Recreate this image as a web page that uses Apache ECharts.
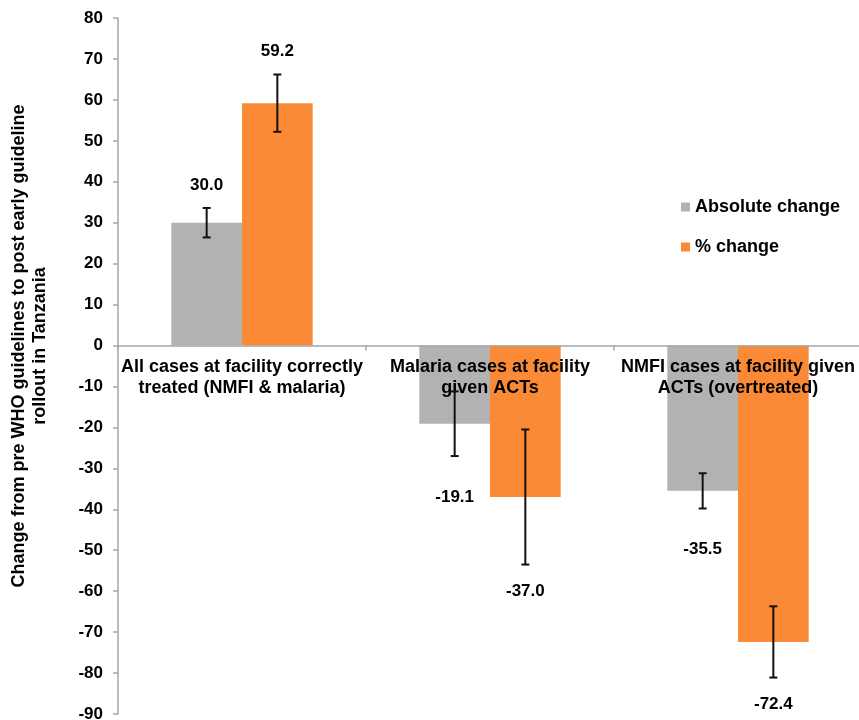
<!DOCTYPE html>
<html>
<head>
<meta charset="utf-8">
<script src="https://cdn.jsdelivr.net/npm/echarts@6/dist/echarts.min.js"></script>
<style>html,body{margin:0;padding:0;background:#fff;}#chart{width:859px;height:720px;}</style>
</head>
<body>
<div id="chart"></div>
<script>
const categories = [
  'All cases at facility correctly\ntreated (NMFI & malaria)',
  'Malaria cases at facility\ngiven ACTs',
  'NMFI cases at facility given\nACTs (overtreated)'
];
const seriesNames = ['Absolute change', '% change'];
const absoluteChange = [30.0, -19.1, -35.5];
const percentChange = [59.2, -37.0, -72.4];
const absoluteError = [3.6, 7.9, 4.3];
const percentError = [7.0, 16.5, 8.7];
const yMin = -90, yMax = 80, yStep = 10;
const yTitle = 'Change from pre WHO guidelines to post early guideline\nrollout in Tanzania';

const FONT = '"Liberation Sans", Arial, sans-serif';
const GRAY = '#b2b2b2', ORANGE = '#fb8a37', AXIS = '#a6a6a6';
const GAP = 0.43;

function errorSeries(si, values, errs) {
  return {
    type: 'custom',
    z: 5,
    silent: true,
    encode: { x: 0, y: 1 },
    data: values.map((v, i) => [i, v, errs[i]]),
    renderItem: function (params, api) {
      const i = api.value(0), v = api.value(1), e = api.value(2);
      const band = api.size([1, 0])[0];
      const barW = band * (1 - GAP) / 2;
      const cx = api.coord([i, 0])[0] + (si === 0 ? -barW / 2 : barW / 2);
      const yHi = api.coord([i, v + e])[1];
      const yLo = api.coord([i, v - e])[1];
      const cap = 4;
      const end = v >= 0 ? yHi : yLo;
      const off = v >= 0 ? -23 : (si === 0 ? 41 : 27);
      const ls = { stroke: '#111', lineWidth: 2 };
      return {
        type: 'group',
        children: [
          { type: 'line', shape: { x1: cx, y1: yHi, x2: cx, y2: yLo }, style: ls },
          { type: 'line', shape: { x1: cx - cap, y1: yHi, x2: cx + cap, y2: yHi }, style: ls },
          { type: 'line', shape: { x1: cx - cap, y1: yLo, x2: cx + cap, y2: yLo }, style: ls },
          { type: 'text', x: cx, y: end + off, style: {
              text: v.toFixed(1), align: 'center', verticalAlign: 'middle',
              textAlign: 'center', textVerticalAlign: 'middle',
              font: 'bold 17px ' + FONT, fill: '#000' } }
        ]
      };
    }
  };
}

const chart = echarts.init(document.getElementById('chart'), null, { renderer: 'canvas' });
chart.setOption({
  animation: false,
  backgroundColor: '#fff',
  grid: { left: 118, top: 18, width: 744, height: 696, containLabel: false, outerBoundsMode: 'none' },
  legend: {
    data: seriesNames,
    orient: 'vertical',
    left: 681, top: 198, padding: 0,
    icon: 'rect', itemWidth: 9, itemHeight: 9, itemGap: 22,
    textStyle: { fontFamily: FONT, fontWeight: 'bold', fontSize: 18, color: '#000' }
  },
  xAxis: {
    type: 'category',
    data: categories,
    z: 3,
    position: 'bottom',
    offset: 0,
    axisLine: { show: true, onZero: false, lineStyle: { color: AXIS, width: 1.5 } },
    axisTick: { show: true, length: 5, lineStyle: { color: AXIS, width: 1.5 } },
    axisLabel: { interval: 0, margin: 11, fontFamily: FONT, fontWeight: 'bold', fontSize: 18, lineHeight: 21, color: '#000' },
    splitLine: { show: false }
  },
  yAxis: {
    type: 'value',
    min: yMin, max: yMax, interval: yStep,
    axisLine: { show: true, lineStyle: { color: AXIS, width: 1.5 } },
    axisTick: { show: true, length: 5, lineStyle: { color: AXIS, width: 1.5 } },
    axisLabel: { margin: 15, fontFamily: FONT, fontWeight: 'bold', fontSize: 17, color: '#000' },
    splitLine: { show: false }
  },
  graphic: [{
    type: 'text', x: 30, y: 346, rotation: Math.PI / 2,
    style: { text: yTitle, align: 'center', verticalAlign: 'middle',
      textAlign: 'center', textVerticalAlign: 'middle', lineHeight: 21,
      font: 'bold 18px ' + FONT, fill: '#000' }
  }],
  series: [
    { name: seriesNames[0], type: 'bar', data: absoluteChange, barGap: '0%', barCategoryGap: (GAP * 100) + '%', itemStyle: { color: GRAY } },
    { name: seriesNames[1], type: 'bar', data: percentChange, barGap: '0%', barCategoryGap: (GAP * 100) + '%', itemStyle: { color: ORANGE } },
    errorSeries(0, absoluteChange, absoluteError),
    errorSeries(1, percentChange, percentError)
  ]
});
// Move the category axis (line, ticks, labels) to the zero line of the value axis.
const yZero = chart.convertToPixel({ yAxisIndex: 0 }, 0);
const yBottom = chart.convertToPixel({ yAxisIndex: 0 }, yMin);
chart.setOption({ xAxis: { offset: yZero - yBottom } });
</script>
</body>
</html>
